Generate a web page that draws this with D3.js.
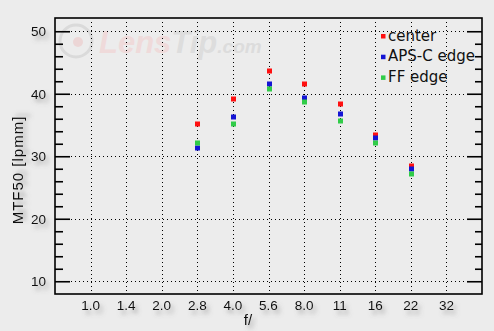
<!DOCTYPE html>
<html><head><meta charset="utf-8">
<script src="https://cdn.jsdelivr.net/npm/d3@7"></script>
<style>
html,body{margin:0;padding:0;background:#ececec;}
svg{display:block;}
</style></head>
<body>
<svg id="c" width="494" height="331"></svg>
<script>
const apertures = ["1.0","1.4","2.0","2.8","4.0","5.6","8.0","11","16","22","32"];
const measured  = ["2.8","4.0","5.6","8.0","11","16","22"];
const center    = [35.2, 39.2, 43.7, 41.5, 38.3, 33.4, 28.5];
const apscEdge  = [31.4, 36.3, 41.5, 39.4, 36.8, 33.0, 27.9];
const ffEdge    = [32.2, 35.2, 40.7, 38.6, 35.7, 32.2, 27.2];
const yMajor    = [10, 20, 30, 40, 50];
const yMinor    = [12, 14, 16, 18, 22, 24, 26, 28, 32, 34, 36, 38, 42, 44, 46, 48];
const seriesNames  = ["center", "APS-C edge", "FF edge"];
const seriesColors = ["#ff1010", "#1414d4", "#30cc48"];

const svg = d3.select("#c");
const L = 55, R = 482, T = 18, B = 294;

const x = d3.scalePoint().domain(apertures).range([L, R]).padding(1);
const y = d3.scaleLinear().domain([10, 50]).range([281.25, 31.25]);

const defs = svg.append("defs");
const f = defs.append("filter").attr("id","sh").attr("x","-50%").attr("y","-50%").attr("width","200%").attr("height","200%");
f.append("feDropShadow").attr("dx",3).attr("dy",4).attr("stdDeviation",2.2)
  .attr("flood-color","#6a6a6a").attr("flood-opacity",0.55);

svg.append("rect").attr("width",494).attr("height",331).attr("fill","#ececec");

// watermark
const wm = svg.append("g").attr("opacity",1);
wm.append("circle").attr("cx",76).attr("cy",41).attr("r",16).attr("fill","none").attr("stroke","#dadada").attr("stroke-width",3);
wm.append("circle").attr("cx",78).attr("cy",42).attr("r",5).attr("fill","#ecd6d6");
wm.append("text").attr("x",99).attr("y",53).attr("font-family","Liberation Sans, Arial, sans-serif")
  .attr("font-size",31).attr("font-weight","bold").attr("font-style","italic")
  .html('<tspan fill="#efdada">Lens</tspan><tspan fill="#dddddd">Tip</tspan><tspan fill="#dcdcdc" font-size="19">.com</tspan>');

// grid
const grid = svg.append("g").attr("stroke","#000").attr("stroke-width",1).attr("stroke-dasharray","1,3").attr("shape-rendering","crispEdges");
grid.selectAll("line.v").data(apertures).join("line")
  .attr("x1",d=>Math.round(x(d))+0.5).attr("x2",d=>Math.round(x(d))+0.5)
  .attr("y1",T+4).attr("y2",B-2);
grid.selectAll("line.h").data(yMajor).join("line")
  .attr("x1",L+16).attr("x2",R-15)
  .attr("y1",d=>Math.round(y(d))+0.5).attr("y2",d=>Math.round(y(d))+0.5);

// ticks
function ticks(axisFn, vals, size, xpos){
  const g = svg.append("g").attr("transform",`translate(${xpos},0)`)
    .call(axisFn(y).tickValues(vals).tickSize(size).tickFormat(""));
  g.select(".domain").remove();
  g.selectAll("line").attr("stroke","#000").attr("stroke-width",1.6);
}
ticks(d3.axisRight, yMajor, 15, L);
ticks(d3.axisRight, yMinor, 8, L);
ticks(d3.axisLeft, yMajor, 15, R);
ticks(d3.axisLeft, yMinor, 7, R);

// frame
svg.append("rect").attr("x",L).attr("y",T).attr("width",R-L).attr("height",B-T)
  .attr("fill","none").attr("stroke","#000").attr("stroke-width",1.6);

// tick labels
const lab = svg.append("g").attr("font-family","Liberation Sans, Arial, sans-serif").attr("font-size",13.5)
  .attr("fill","#111").attr("filter","url(#sh)");
lab.selectAll("text.y").data(yMajor).join("text")
  .attr("x",46).attr("y",d=>y(d)+5).attr("text-anchor","end").text(d=>d);
lab.selectAll("text.x").data(apertures).join("text")
  .attr("x",d=>x(d)).attr("y",310).attr("text-anchor","middle").text(d=>d);

// axis titles
svg.append("text").attr("transform","translate(23,170) rotate(-90)")
  .attr("text-anchor","middle").attr("font-family","Liberation Sans, Arial, sans-serif")
  .attr("font-size",15).attr("letter-spacing",1).attr("fill","#111").attr("filter","url(#sh)")
  .text("MTF50 [lpmm]");
svg.append("text").attr("x",248).attr("y",325).attr("text-anchor","middle")
  .attr("font-family","Liberation Sans, Arial, sans-serif").attr("font-size",15)
  .attr("fill","#111").attr("filter","url(#sh)").text("f/");

// data points
const series = [center, apscEdge, ffEdge];
series.forEach((vals, si) => {
  svg.append("g").selectAll("rect").data(vals).join("rect")
    .attr("x",(d,i)=>Math.round(x(measured[i]))-2)
    .attr("y",d=>Math.round(y(d))-2.5)
    .attr("width",5).attr("height",5)
    .attr("fill",seriesColors[si]);
});

// legend
const leg = svg.append("g").attr("font-family","DejaVu Sans, sans-serif").attr("font-size",15).attr("fill","#111");
seriesNames.forEach((n,i)=>{
  const cy = 36 + i*20.7;
  leg.append("rect").attr("x",381).attr("y",cy-2).attr("width",4.5).attr("height",4.5).attr("fill",seriesColors[i]);
  leg.append("text").attr("x",388).attr("y",cy+4.6).text(n);
});
</script>
</body></html>
